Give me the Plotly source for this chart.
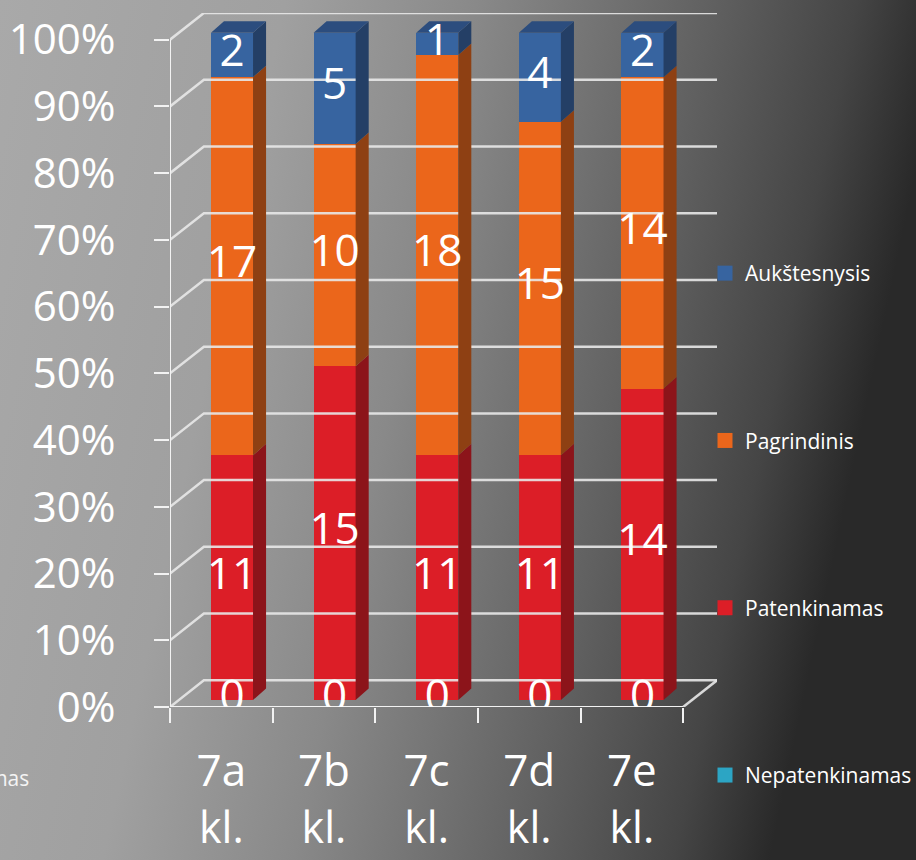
import base64
import plotly.graph_objects as go

# ---------------- data ----------------
categories = ["7a", "7b", "7c", "7d", "7e"]
category_suffix = "kl."
series_names = ["Nepatenkinamas", "Patenkinamas", "Pagrindinis", "Aukštesnysis"]
nepatenkinamas = [0, 0, 0, 0, 0]
patenkinamas = [11, 15, 11, 11, 14]
pagrindinis = [17, 10, 18, 15, 14]
aukstesnysis = [2, 5, 1, 4, 2]
y_tick_values = [0, 10, 20, 30, 40, 50, 60, 70, 80, 90, 100]
y_tick_labels = ["0%", "10%", "20%", "30%", "40%", "50%", "60%", "70%", "80%", "90%", "100%"]

# ---------------- style ----------------
front_colors = ["#2CA5C4", "#DC1E27", "#EB661B", "#3764A0"]
side_colors = ["#1B6E84", "#8C141A", "#8E4013", "#243F66"]
top_color = "#2C4D7E"
grid_color = "rgba(232,232,232,0.9)"
axis_color = "#f2f2f2"
text_color = "#ffffff"
FONT = "Open Sans"

# pseudo-3D geometry (in axis units)
DX, DY = 0.33, 4.0        # depth of the walls
BX, BY = 0.104, 1.05      # bar front-face offset into the depth
BW = 0.41                 # bar width
SX, SY = 0.127, 1.72      # bar depth

series_values = [nepatenkinamas, patenkinamas, pagrindinis, aukstesnysis]
n = len(categories)
totals = [sum(s[i] for s in series_values) for i in range(n)]
pcts = [[v / totals[i] * 100 for i, v in enumerate(s)] for s in series_values]

fig = go.Figure()

# back wall / side wall gridlines
gx, gy = [], []
x_left, x_right = -0.5, n - 0.5
for p in y_tick_values:
    gx += [x_left, x_left + DX, x_right + DX, None]
    gy += [p, p + DY, p + DY, None]
gx += [x_right, x_right + DX, None]
gy += [0, DY, None]
fig.add_trace(go.Scatter(x=gx, y=gy, mode="lines", line=dict(color=grid_color, width=2.5),
                         hoverinfo="skip", showlegend=False))
# front axis lines
fig.add_trace(go.Scatter(x=[x_left, x_left, None, x_left, x_right],
                         y=[100, 0, None, 0, 0], mode="lines",
                         line=dict(color=axis_color, width=2), hoverinfo="skip", showlegend=False))

# bars
cum = [0.0] * n
label_traces = []
for k, name in enumerate(series_names):
    pk = pcts[k]
    bases = [BY + cum[i] for i in range(n)]
    fig.add_trace(go.Bar(
        x=[i + BX for i in range(n)], y=pk, base=bases, width=BW,
        marker=dict(color=front_colors[k], line=dict(width=0)),
        name=name, showlegend=False, hoverinfo="skip"))
    # legend entry (square swatch)
    fig.add_trace(go.Scatter(
        x=[None], y=[None], mode="markers", name=name,
        marker=dict(symbol="square", size=15, color=front_colors[k]),
        legendgroup=name, legendrank=len(series_names) - k, hoverinfo="skip"))
    # side faces
    sx, sy = [], []
    for i in range(n):
        xr = i + BX + BW / 2
        y0, y1 = bases[i], bases[i] + pk[i]
        if pk[i] > 0:
            sx += [xr, xr + SX, xr + SX, xr, xr, None]
            sy += [y0, y0 + SY, y1 + SY, y1, y0, None]
    if sx:
        fig.add_trace(go.Scatter(x=sx, y=sy, mode="lines", fill="toself",
                                 fillcolor=side_colors[k], line=dict(width=0),
                                 hoverinfo="skip", showlegend=False))
    # labels
    label_traces.append(go.Scatter(
        x=[i + BX for i in range(n)], y=[bases[i] + pk[i] / 2 for i in range(n)],
        mode="text", text=[str(v) for v in series_values[k]],
        textfont=dict(family=FONT, size=44, color=text_color),
        hoverinfo="skip", showlegend=False))
    cum = [cum[i] + pk[i] for i in range(n)]

# top faces
tx, ty = [], []
for i in range(n):
    xl = i + BX - BW / 2
    xr = i + BX + BW / 2
    yt = BY + cum[i]
    tx += [xl, xl + SX, xr + SX, xr, xl, None]
    ty += [yt, yt + SY, yt + SY, yt, yt, None]
fig.add_trace(go.Scatter(x=tx, y=ty, mode="lines", fill="toself", fillcolor=top_color,
                         line=dict(width=0), hoverinfo="skip", showlegend=False))
for t in label_traces:
    fig.add_trace(t)

# background gradient (svg)
W, H = 916, 860
svg = f"""<svg xmlns='http://www.w3.org/2000/svg' width='{W}' height='{H}' viewBox='0 0 {W} {H}' preserveAspectRatio='none'>
<defs><linearGradient id='g' x1='0' y1='0' x2='1' y2='0.2'>
<stop offset='0' stop-color='#a9a9a9'/>
<stop offset='0.3' stop-color='#a0a0a0'/>
<stop offset='0.5' stop-color='#898989'/>
<stop offset='0.75' stop-color='#606060'/>
<stop offset='0.9' stop-color='#454545'/>
<stop offset='1' stop-color='#292929'/>
</linearGradient></defs>
<rect width='{W}' height='{H}' fill='url(#g)'/></svg>"""
src = "data:image/svg+xml;base64," + base64.b64encode(svg.encode()).decode()

ML, MR, MT, MB = 170, 199, 13, 153
pw, ph = W - ML - MR, H - MT - MB

fig.update_layout(
    width=W, height=H,
    margin=dict(l=ML, r=MR, t=MT, b=MB, pad=0, autoexpand=False),
    paper_bgcolor="#8a8a8a", plot_bgcolor="rgba(0,0,0,0)",
    barmode="overlay", bargap=0,
    font=dict(family=FONT, color=text_color),
    images=[dict(source=src, xref="paper", yref="paper",
                 x=-ML / pw, y=1 + MT / ph, sizex=W / pw, sizey=H / ph,
                 sizing="stretch", xanchor="left", yanchor="top", layer="below")],
    xaxis=dict(range=[x_left, x_right + DX], tickmode="array",
               tickvals=[i - 0.5 for i in range(n + 1)], ticktext=[""] * (n + 1),
               ticks="outside", ticklen=15, tickwidth=2, tickcolor=axis_color,
               showgrid=False, zeroline=False, showline=False, fixedrange=True,
               automargin=False),
    xaxis2=dict(range=[x_left, x_right + DX], overlaying="x", anchor="y", side="bottom",
                tickmode="array", tickvals=list(range(n)), ticktext=categories,
                ticks="", showgrid=False, zeroline=False, showline=False,
                tickfont=dict(family=FONT, size=44, color=text_color),
                ticklabelstandoff=34, fixedrange=True, automargin=False),
    xaxis3=dict(range=[x_left, x_right + DX], overlaying="x", anchor="y", side="bottom",
                tickmode="array", tickvals=list(range(n)), ticktext=[category_suffix] * n,
                ticks="", showgrid=False, zeroline=False, showline=False,
                tickfont=dict(family=FONT, size=43, color=text_color),
                ticklabelstandoff=92, fixedrange=True, automargin=False),
    yaxis=dict(range=[0, 100 + DY], tickmode="array", tickvals=y_tick_values,
               ticktext=y_tick_labels, ticks="outside", ticklen=15, tickwidth=2,
               tickcolor=axis_color, showgrid=False, zeroline=False, showline=False,
               tickfont=dict(family=FONT, size=42, color=text_color),
               ticklabelstandoff=30, fixedrange=True, automargin=False),
    legend=dict(x=(705 - ML) / pw, xanchor="left", y=(707 - 253) / ph, yanchor="top",
                bgcolor="rgba(0,0,0,0)", font=dict(family=FONT, size=21, color=text_color),
                traceorder="grouped", tracegroupgap=137, itemclick=False, itemdoubleclick=False),
    showlegend=True,
    annotations=[dict(text="Nepatenkinamas", xref="paper", yref="paper",
                      x=(31 - ML) / pw, y=(707 - 778) / ph, xanchor="right", yanchor="middle",
                      showarrow=False, font=dict(family=FONT, size=21, color="#f4f4f4"))],
)
# attach the extra axes so their labels are drawn
fig.add_trace(go.Scatter(x=[None], y=[None], xaxis="x2", showlegend=False, hoverinfo="skip"))
fig.add_trace(go.Scatter(x=[None], y=[None], xaxis="x3", showlegend=False, hoverinfo="skip"))

fig.write_html("out.html", config={"displayModeBar": False},
               post_script="document.body.style.margin='0';document.body.style.overflow='hidden';")
